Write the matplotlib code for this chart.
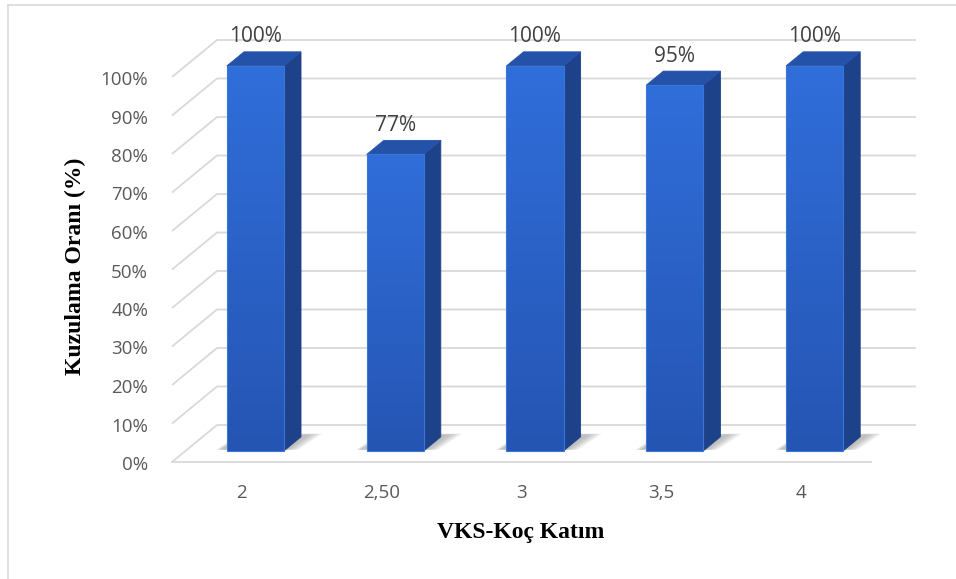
import numpy as np
import matplotlib
matplotlib.use("Agg")
import matplotlib.pyplot as plt
from matplotlib.patches import Polygon
from matplotlib.lines import Line2D

# Data
categories = ["2", "2,50", "3", "3,5", "4"]
rates = [100, 77, 100, 95, 100]
value_labels = ["100%", "77%", "100%", "95%", "100%"]
y_ticks = [0, 10, 20, 30, 40, 50, 60, 70, 80, 90, 100]
y_tick_labels = ["0%", "10%", "20%", "30%", "40%", "50%", "60%", "70%", "80%", "90%", "100%"]

W, H = 956, 579
fig = plt.figure(figsize=(W / 100, H / 100), dpi=100)
ax = fig.add_axes([0, 0, 1, 1])

# Pixel scale of the plot: category width and percent height
px_cat = 139.8
px_pct = 3.85
x_left_px = 172
y_floor_px = 462
ax.set_xlim(-x_left_px / px_cat, (W - x_left_px) / px_cat)
ax.set_ylim(-(H - y_floor_px) / px_pct, y_floor_px / px_pct)
ax.axis("off")

# Oblique depth direction (full depth of the floor)
DX = 45 / px_cat
DY = 37 / px_pct


def proj(x, y, d):
    return (x + DX * d, y + DY * d)


n = len(categories)
grid_col = "#D9D9D9"

# Back wall / side wall gridlines
for v in y_ticks:
    pts = [proj(0, v, 0), proj(0, v, 1), proj(n, v, 1)]
    ax.plot([p[0] for p in pts], [p[1] for p in pts], color=grid_col, lw=1.3,
            solid_capstyle="butt", zorder=1)
# Front floor edge
p0, p1 = proj(0, 0, 0), proj(n, 0, 0)
ax.plot([p0[0], p1[0]], [p0[1], p1[1]], color=grid_col, lw=1.3, zorder=1)

# Bar geometry
HW = 0.204
d0, d1 = 0.30, 0.68

front_top = np.array([0x30, 0x6E, 0xDA]) / 255
front_bot = np.array([0x25, 0x55, 0xB3]) / 255
side_col = "#1E4289"
top_col = "#2552A9"

grad = np.linspace(0, 1, 256)[:, None]
grad_img = front_bot[None, None, :] * (1 - grad[..., None]) + front_top[None, None, :] * grad[..., None]

for i, v in enumerate(rates):
    xc = i + 0.5
    x0, x1 = xc - HW, xc + HW

    # soft floor shadow
    for k in range(7):
        e = 0.012 * k
        shadow = [proj(x0 - 0.05 - e * 0.5, 0, d0 + 0.03),
                  proj(x1 + 0.02 + e, 0, d0 + 0.03),
                  proj(x1 + 0.04 + e * 1.2, 0, d1 + 0.06 + e * 0.4),
                  proj(x0 - 0.02 - e * 0.5, 0, d1 + 0.06 + e * 0.4)]
        ax.add_patch(Polygon(shadow, closed=True, facecolor="#808080",
                             edgecolor="none", alpha=0.09, zorder=2))

    front = [proj(x0, 0, d0), proj(x1, 0, d0), proj(x1, v, d0), proj(x0, v, d0)]
    side = [proj(x1, 0, d0), proj(x1, 0, d1), proj(x1, v, d1), proj(x1, v, d0)]
    top = [proj(x0, v, d0), proj(x1, v, d0), proj(x1, v, d1), proj(x0, v, d1)]

    ax.add_patch(Polygon(side, closed=True, facecolor=side_col, edgecolor=side_col,
                         lw=0.6, zorder=3))
    ax.add_patch(Polygon(top, closed=True, facecolor=top_col, edgecolor=top_col,
                         lw=0.6, zorder=3))
    fp = Polygon(front, closed=True, facecolor="none", edgecolor="#3A75D8",
                 lw=0.8, zorder=5)
    ax.add_patch(fp)
    fx0, fy0 = proj(x0, 0, d0)
    fx1, fy1 = proj(x1, v, d0)
    im = ax.imshow(grad_img, extent=[fx0, fx1, fy0, fy1], origin="lower",
                   aspect="auto", zorder=4, interpolation="bilinear")
    im.set_clip_path(fp)

    # value label above the bar
    lx, _ = proj(xc, v, d0)
    _, ly = proj(xc, v, d1)
    ax.annotate(value_labels[i], xy=(lx, ly), xytext=(0, 15), textcoords="offset pixels",
                ha="center", va="center", fontsize=15, color="#404040",
                family="Open Sans", zorder=6)

    # category label
    ax.annotate(categories[i], xy=proj(xc, 0, 0), xytext=(0, -31),
                textcoords="offset pixels", ha="center", va="center",
                fontsize=13.5, color="#595959", family="Open Sans")

# Value axis labels
for v, lab in zip(y_ticks, y_tick_labels):
    ax.annotate(lab, xy=proj(0, v, 0), xytext=(-24, -3), textcoords="offset pixels",
                ha="right", va="center", fontsize=13.5, color="#595959",
                family="Open Sans")

# Axis titles
fig.text(75 / W, 1 - 266 / H, "Kuzulama Oranı (%)", rotation=90, ha="center",
         va="center", fontsize=17, fontweight="bold", family="Liberation Serif",
         color="black")
fig.text(521 / W, 1 - 538 / H, "VKS-Koç Katım", ha="center", va="baseline",
         fontsize=17, fontweight="bold", family="Liberation Serif", color="black")

# Chart area border (top and left edges)
fig.add_artist(Line2D([8 / W, 1], [1 - 5 / H, 1 - 5 / H], color="#D9D9D9", lw=1.2,
                      transform=fig.transFigure))
fig.add_artist(Line2D([8 / W, 8 / W], [0, 1 - 5 / H], color="#D9D9D9", lw=1.2,
                      transform=fig.transFigure))

fig.savefig("out.png", dpi=100)
